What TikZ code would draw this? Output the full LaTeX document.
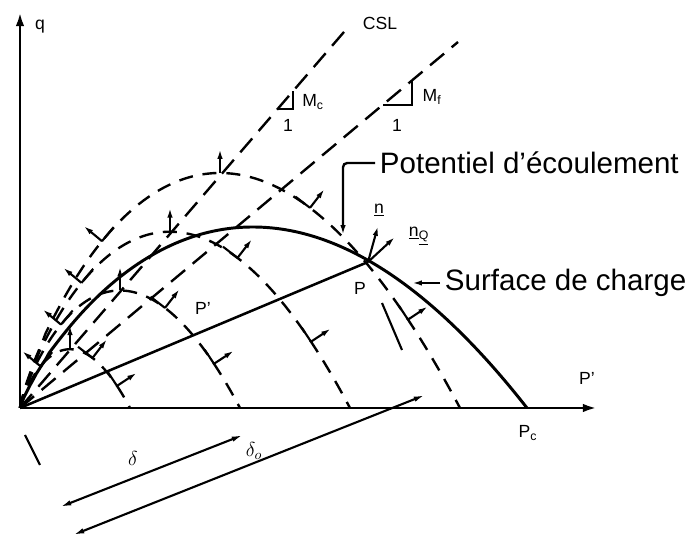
\documentclass[tikz,border=0pt]{standalone}
\usepackage{fontspec}
\setmainfont{Liberation Sans}
\usepackage{tikz}
\usetikzlibrary{arrows.meta,calc}

% plastic potential (normalised) and yield surface, q as a function of p'
\pgfmathdeclarefunction{qpot}{1}{\pgfmathparse{235*(#1/200)^0.833*((440-#1)/240)}}
\pgfmathdeclarefunction{qyld}{1}{\pgfmathparse{181*(#1/233)^0.85*((507-#1)/274)}}

\begin{document}
\begin{tikzpicture}[
    x=0.025cm, y=0.025cm,
    axisline/.style={line width=2.1pt, -{Latex[length=10pt,width=6pt]}},
    yield/.style={line width=2.1pt},
    potl/.style={line width=1.7pt, dash pattern=on 10pt off 7pt},
    crit/.style={line width=1.7pt, dash pattern=on 13pt off 7pt},
    nrm/.style={line width=1.5pt, -{Latex[length=7pt,width=3.8pt]}},
    arm/.style={line width=1.5pt},
    dbl/.style={line width=1.5pt, {Latex[length=8pt,width=3.8pt]}-{Latex[length=8pt,width=3.8pt]}},
    lbl/.style={font=\fontsize{12.5}{15}\selectfont},
    bigtxt/.style={font=\fontsize{21}{25}\selectfont, anchor=west}
]
\useasboundingbox (-20,-130) rectangle (679,408);

% Axes
\coordinate (O) at (0,0);
\coordinate (qtop) at (0,396);
\coordinate (pend) at (577,0);
\draw[axisline] (O) -- (qtop);
\draw[axisline] (O) -- (pend);
\node[lbl] (qlab) at (20,381) {q};
\node[lbl] (plab) at (567,30) {P'};
\node[lbl] (pclab) at (508,-25) {P\textsubscript{c}};

% Critical state lines and their slopes
\coordinate (csl) at (330,383);
\coordinate (mfl) at (438,366);
\draw[crit] (O) -- (csl);
\draw[crit] (O) -- (mfl);
\node[lbl] (csllab) at (360,385) {CSL};

\coordinate (c1) at (258,299);
\coordinate (c2) at (273,299);
\coordinate (c3) at (273,317);
\draw[arm, line width=1.3pt] (c1) -- (c2) -- (c3);
\node[lbl] (mclab) at (293,306) {M\textsubscript{c}};
\node[lbl] (onec) at (268,283) {1};

\coordinate (f1) at (363,303);
\coordinate (f2) at (392,303);
\coordinate (f3) at (392,328);
\draw[arm, line width=1.3pt] (f1) -- (f2) -- (f3);
\node[lbl] (mflab) at (412,311) {M\textsubscript{f}};
\node[lbl] (onef) at (377,283) {1};

% Yield surface (solid)
\draw[yield] (O) -- plot[domain=0.5:507, samples=160] (\x, {qyld(\x)});

% Plastic potentials (dashed, homothetic)
\foreach \s in {1,0.75,0.5,0.25}{
  \begin{scope}[scale=\s]
    \draw[potl] (O) -- plot[domain=0.3:440, samples=140] (\x, {qpot(\x)});
  \end{scope}
}

% Normals on the potentials
\foreach \s in {1,0.75,0.5,0.25}{
  \coordinate (pk) at ({200*\s},{235*\s});
  \coordinate (pkt) at ($(pk)+(0,24)$);
  \draw[nrm] (pk) -- (pkt);
  \foreach \p/\t in {82/13pt, 290/-13pt, 388/-12pt}{
    \coordinate (v) at ({\s*\p},{\s*qpot(\p)});
    \coordinate (w) at ({\s*(\p+2)},{\s*qpot(\p+2)});
    \coordinate (vn) at ($(v)!17pt!90:(w)$);
    \coordinate (vt) at ($(v)!\t!(w)$);
    \draw[arm] (vt) -- (v);
    \draw[nrm] (v) -- (vn);
  }
}

% Stress point P and its normals
\coordinate (P) at (348,146);
\coordinate (nY) at (358,182);
\coordinate (nQ) at (375,171);
\draw[yield, line width=1.8pt] (O) -- (P);
\draw[nrm] (P) -- (nY);
\draw[nrm] (P) -- (nQ);
\node[lbl] (nlab) at (359,198) {\underline{n}};
\node[lbl] (nqlab) at (399,172) {\underline{n}\textsubscript{\underline{Q}}};
\node[lbl] (Plab) at (340,120) {P};
\node[lbl] (Pplab) at (183,100) {P'};

\coordinate (t1) at (362,105);
\coordinate (t2) at (382,58);
\draw[arm] (t1) -- (t2);
\coordinate (b1) at (5,-27);
\coordinate (b2) at (20,-57);
\draw[arm] (b1) -- (b2);

% Captions with their pointers
\node[bigtxt] (pot) at (355,245) {Potentiel d'écoulement};
\coordinate (pb) at (323,245);
\coordinate (pc) at (323,173);
\draw[nrm, line width=1.7pt, rounded corners=3pt] (pot.west) -- (pb) -- (pc);

\node[bigtxt] (sur) at (420,125) {Surface de charge};
\coordinate (sc) at (392,125);
\draw[nrm, line width=1.7pt] (sur.west) -- (sc);

% Distances along OP
\coordinate (d1a) at (40,-99);
\coordinate (d1b) at (223,-27);
\coordinate (d2a) at (53,-127);
\coordinate (d2b) at (405,13);
\draw[dbl] (d1a) -- (d1b);
\draw[dbl] (d2a) -- (d2b);
\node[font=\fontsize{15}{17}\selectfont] (dlab) at (113,-50) {$\delta$};
\node[font=\fontsize{14}{16}\selectfont, inner sep=0pt] (dolab) at (234,-43) {$\delta_o$};
\end{tikzpicture}
\end{document}
